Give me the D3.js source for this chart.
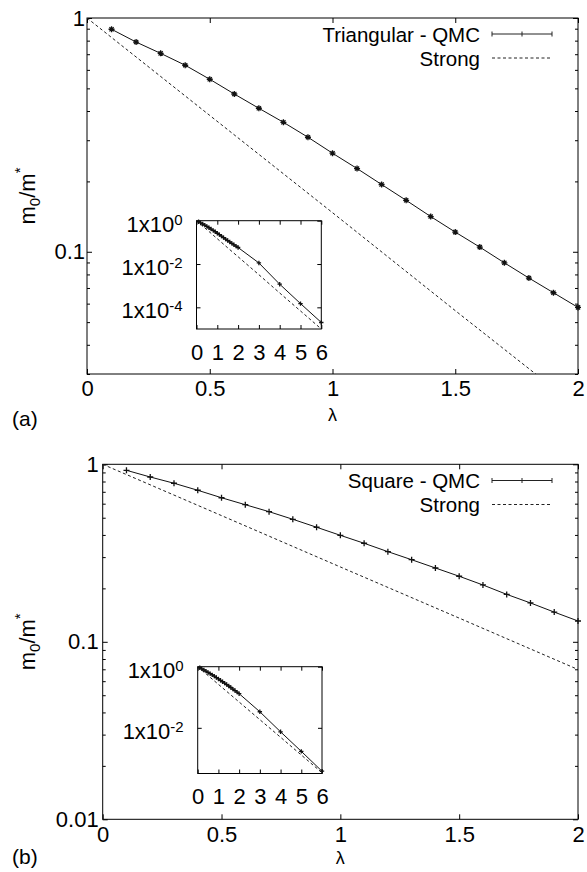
<!DOCTYPE html>
<html>
<head>
<meta charset="utf-8">
<title>m0/m* versus lambda</title>
<script src="https://d3js.org/d3.v7.min.js"></script>
<style>
  body { margin: 0; background: #fff; }
  svg { font-family: "Liberation Sans", Arial, sans-serif; }
  .axis text { font-size: 22px; fill: #000; font-family: "Liberation Sans", Arial, sans-serif; }
  .axis line { stroke: #000; }
  .lbl { fill: #000; }
</style>
</head>
<body>
<svg width="587" height="872"></svg>
<script>
// lambda values of the QMC runs
const lamQMC = [0.1, 0.2, 0.3, 0.4, 0.5, 0.6, 0.7, 0.8, 0.9, 1.0,
                1.1, 1.2, 1.3, 1.4, 1.5, 1.6, 1.7, 1.8, 1.9, 2.0];
const lamQMCext = [3, 4, 5, 6];

// (a) triangular lattice
const triQMC = [0.895, 0.789, 0.706, 0.628, 0.547, 0.473, 0.411, 0.358, 0.309, 0.264,
                0.227, 0.194, 0.166, 0.1415, 0.1214, 0.1047, 0.0897, 0.0772, 0.0668, 0.0578];
const triQMCext = [0.0112, 0.00117, 0.000149, 0.000020];

// (b) square lattice
const sqQMC = [0.925, 0.848, 0.782, 0.714, 0.648, 0.592, 0.541, 0.490, 0.442, 0.398,
               0.359, 0.322, 0.290, 0.2605, 0.234, 0.209, 0.185, 0.1655, 0.147, 0.131];
const sqQMCext = [0.0335, 0.0074, 0.0017, 0.00038];

// strong coupling curves
const lamStrong = [0, 0.5, 1, 1.5, 2, 3, 4, 5, 6];
const triStrong = [1, 0.383, 0.147, 0.056, 0.0216, 0.0032, 0.00046, 0.000068, 0.0000100];
const sqStrong  = [1, 0.514, 0.264, 0.136, 0.0698, 0.0185, 0.0049, 0.00129, 0.00034];

// tick values
const mainXTicks = [0, 0.5, 1, 1.5, 2];
const mainYTicksA = [1, 0.1];
const mainYTicksB = [1, 0.1, 0.01];
const insetXTicks = [0, 1, 2, 3, 4, 5, 6];
const insetYTicks = [1, 1e-2, 1e-4];

const svg = d3.select("svg");
svg.append("rect").attr("width", 587).attr("height", 872).attr("fill", "#fff");

let clipCount = 0;

function zip(xs, ys) { return xs.map((v, i) => [v, ys[i]]); }

function minorTicks(dom) {
  const out = [];
  const lo = Math.floor(Math.log10(dom[0])), hi = Math.ceil(Math.log10(dom[1]));
  for (let e = lo; e < hi; e++)
    for (let k = 2; k <= 9; k++) {
      const v = k * Math.pow(10, e);
      if (v >= dom[0] && v <= dom[1]) out.push(v);
    }
  return out;
}

function frame(g, x, y, opts) {
  const L = x.range()[0], R = x.range()[1], B = y.range()[0], T = y.range()[1];
  const ts = opts.tick;

  // bottom axis with labels
  const bx = g.append("g").attr("class", "axis").attr("transform", `translate(0,${B})`)
    .call(d3.axisBottom(x).tickValues(opts.xTicks).tickSize(-ts).tickPadding(opts.xPad)
      .tickFormat(d => d3.format("")(d)));
  // top mirror
  const tx = g.append("g").attr("class", "axis").attr("transform", `translate(0,${T})`)
    .call(d3.axisTop(x).tickValues(opts.xTicks).tickSize(-ts).tickFormat(""));
  // left axis
  const ly = g.append("g").attr("class", "axis").attr("transform", `translate(${L},0)`)
    .call(d3.axisLeft(y).tickValues(opts.yTicks).tickSize(-ts).tickPadding(opts.yPad)
      .tickFormat(opts.yFormat || (d => String(d))));
  const ry = g.append("g").attr("class", "axis").attr("transform", `translate(${R},0)`)
    .call(d3.axisRight(y).tickValues(opts.yTicks).tickSize(-ts).tickFormat(""));
  const axes = [bx, tx, ly, ry];
  if (opts.minor) {
    const m = minorTicks(y.domain());
    axes.push(g.append("g").attr("class", "axis").attr("transform", `translate(${L},0)`)
      .call(d3.axisLeft(y).tickValues(m).tickSize(-3).tickFormat("")));
    axes.push(g.append("g").attr("class", "axis").attr("transform", `translate(${R},0)`)
      .call(d3.axisRight(y).tickValues(m).tickSize(-3).tickFormat("")));
  }
  axes.forEach(a => a.select(".domain").remove());
  g.append("rect").attr("x", L).attr("y", T).attr("width", R - L).attr("height", B - T)
    .attr("fill", "none").attr("stroke", "#000").attr("stroke-width", 1);
  return ly;
}

function curves(g, x, y, qmc, strong, marker, msize) {
  const id = "clip" + (clipCount++);
  const L = x.range()[0], R = x.range()[1], B = y.range()[0], T = y.range()[1];
  g.append("clipPath").attr("id", id).append("rect")
    .attr("x", L).attr("y", T).attr("width", R - L).attr("height", B - T);
  const line = d3.line().x(d => x(d[0])).y(d => y(d[1]));
  const xmax = x.domain()[1];

  g.append("path").datum(strong).attr("clip-path", `url(#${id})`)
    .attr("d", line).attr("fill", "none").attr("stroke", "#222")
    .attr("stroke-width", 1).attr("stroke-dasharray", "3,2.5");

  const pts = qmc.filter(d => d[0] <= xmax + 1e-9);
  g.append("path").datum(pts).attr("clip-path", `url(#${id})`)
    .attr("d", line).attr("fill", "none").attr("stroke", "#111").attr("stroke-width", 1);

  const s = msize;
  const star = `M${-s},0H${s}M0,${-s}V${s}M${-s*0.7},${-s*0.7}L${s*0.7},${s*0.7}M${-s*0.7},${s*0.7}L${s*0.7},${-s*0.7}`;
  const plus = `M${-s},0H${s}M0,${-s}V${s}`;
  g.selectAll(null).data(pts).enter().append("path")
    .attr("transform", d => `translate(${x(d[0])},${y(d[1])})`)
    .attr("d", marker === "star" ? star : plus)
    .attr("fill", "none").attr("stroke", "#111").attr("stroke-width", 1.3);
}

function yLabel(g, cx, cy) {
  const t = g.append("text").attr("class", "lbl").style("font-size", "22px")
    .attr("transform", `translate(${cx},${cy}) rotate(-90)`)
    .attr("text-anchor", "middle");
  t.append("tspan").text("m");
  t.append("tspan").style("font-size", "15px").attr("dy", 5).text("0");
  t.append("tspan").attr("dy", -5).text("/m");
  t.append("tspan").style("font-size", "15px").attr("dy", -10).text("*");
}

function legend(g, entries, xr, x0, x1) {
  entries.forEach(e => {
    g.append("text").attr("class", "lbl").attr("x", xr).attr("y", e.y + 7.5)
      .attr("text-anchor", "end").style("font-size", "20.5px").text(e.text);
    const l = g.append("g").attr("stroke", "#222").attr("stroke-width", 1);
    if (e.dash) {
      l.append("line").attr("x1", x0).attr("x2", x1 - 2).attr("y1", e.y).attr("y2", e.y)
        .attr("stroke-dasharray", "3,2.5");
    } else {
      l.append("line").attr("x1", x0).attr("x2", x1).attr("y1", e.y).attr("y2", e.y);
      [x0, (x0 + x1) / 2, x1].forEach(xx =>
        l.append("line").attr("x1", xx).attr("x2", xx).attr("y1", e.y - 2.5).attr("y2", e.y + 2.5));
    }
  });
}

function insetYFormat(axisG) {
  axisG.selectAll(".tick text").each(function(d) {
    const t = d3.select(this);
    t.text(null).attr("dy", "0.47em");
    t.append("tspan").text("1x10");
    t.append("tspan").attr("dy", -7).style("font-size", "15px").text(Math.round(Math.log10(d)));
  });
}

function panel(p) {
  const g = svg.append("g");
  const x = d3.scaleLinear().domain([0, 2]).range([p.left, p.right]);
  const y = d3.scaleLog().domain(p.yDomain).range([p.bottom, p.top]);
  frame(g, x, y, { xTicks: mainXTicks, yTicks: p.yTicks, tick: 5, xPad: p.xPad, yPad: p.yPad,
    minor: true, yFormat: d => String(d) });
  curves(g, x, y, zip(lamQMC, p.qmc), zip(lamStrong, p.strong), p.marker, 3);

  // inset
  const ix = d3.scaleLinear().domain([0, 6]).range([p.inset.left, p.inset.right]);
  const iy = d3.scaleLog().domain(p.inset.yDomain).range([p.inset.bottom, p.inset.top]);
  g.append("rect").attr("x", p.inset.left).attr("y", p.inset.top)
    .attr("width", p.inset.right - p.inset.left).attr("height", p.inset.bottom - p.inset.top)
    .attr("fill", "#fff");
  const yTicks = insetYTicks.filter(v => v >= p.inset.yDomain[0] && v <= p.inset.yDomain[1]);
  const ly = frame(g, ix, iy, { xTicks: insetXTicks, yTicks: yTicks, tick: 4, xPad: 15, yPad: 14,
    minor: false });
  insetYFormat(ly);
  curves(g, ix, iy, zip(lamQMC.concat(lamQMCext), p.qmc.concat(p.qmcExt)),
    zip(lamStrong, p.strong), "plus", 2.2);

  // labels
  yLabel(g, 35, (p.top + p.bottom) / 2);
  g.append("text").attr("class", "lbl").attr("x", (p.left + p.right) / 2).attr("y", p.lamY)
    .attr("text-anchor", "middle").style("font-size", "18px").text("λ");
  g.append("text").attr("class", "lbl").attr("x", 12).attr("y", p.tagY)
    .style("font-size", "21px").text(p.tag);
  legend(g, p.legend, 480, 492, 552);
}

panel({
  left: 87, right: 578, top: 18, bottom: 374, yDomain: [0.03, 1], yTicks: mainYTicksA,
  xPad: 6, yPad: 2, qmc: triQMC, qmcExt: triQMCext, strong: triStrong, marker: "star",
  inset: { left: 196.5, right: 321.3, top: 220.7, bottom: 329, yDomain: [1e-5, 1] },
  lamY: 421, tagY: 426, tag: "(a)",
  legend: [{ text: "Triangular - QMC", y: 34 }, { text: "Strong", y: 58, dash: true }]
});

panel({
  left: 102.7, right: 578, top: 464.3, bottom: 819.3, yDomain: [0.01, 1], yTicks: mainYTicksB,
  xPad: 7.5, yPad: 4, qmc: sqQMC, qmcExt: sqQMCext, strong: sqStrong, marker: "plus",
  inset: { left: 197.7, right: 322, top: 666.7, bottom: 773.5, yDomain: [3.2e-4, 1] },
  lamY: 864, tagY: 864, tag: "(b)",
  legend: [{ text: "Square - QMC", y: 480.5 }, { text: "Strong", y: 504.5, dash: true }]
});
</script>
</body>
</html>
